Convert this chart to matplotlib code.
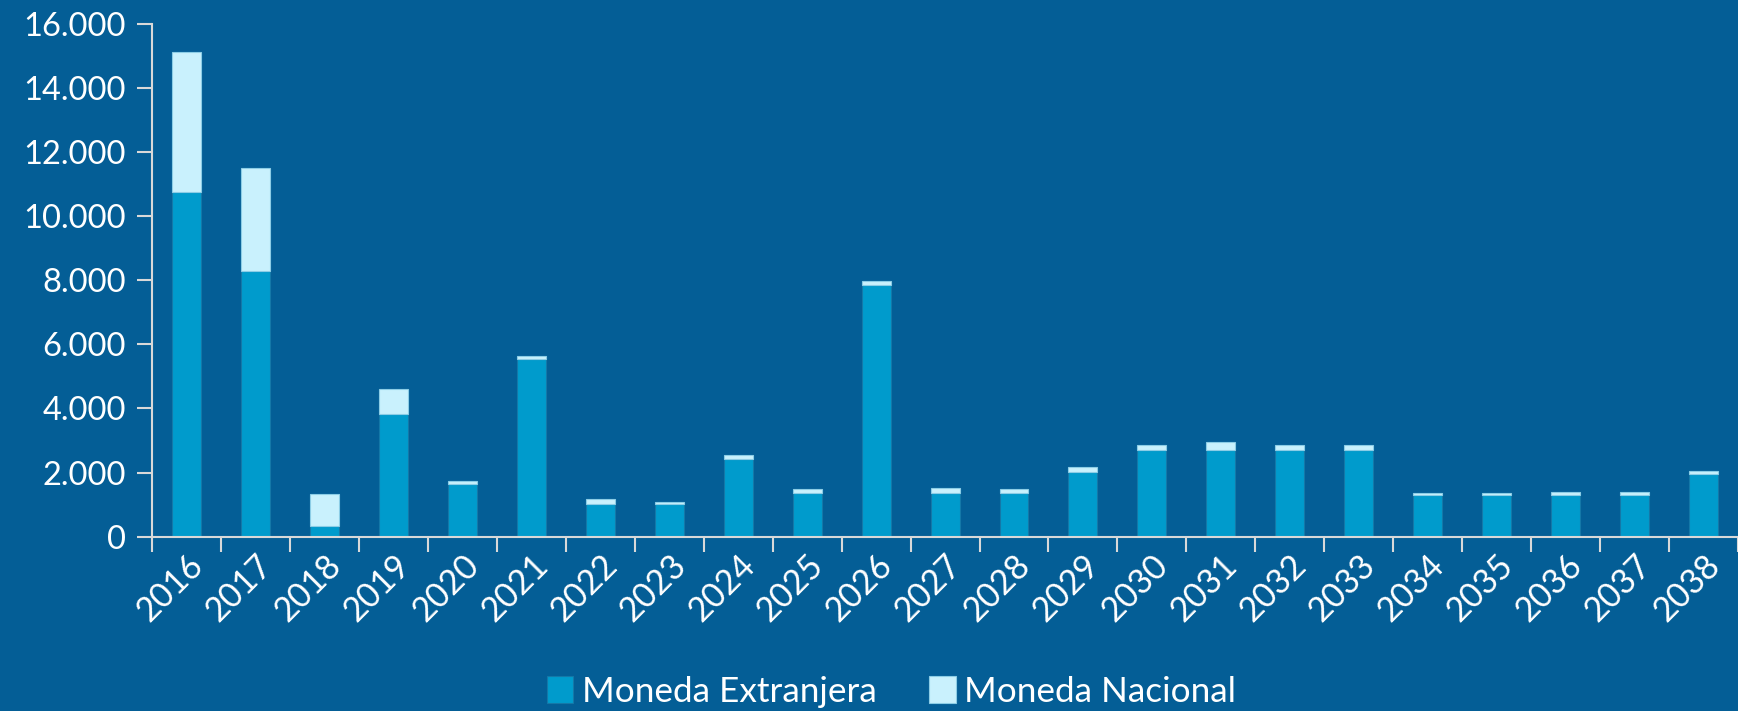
import numpy as np
import matplotlib.pyplot as plt
from matplotlib.ticker import FuncFormatter, FixedLocator

years = [str(y) for y in range(2016, 2039)]

# values (millions)
moneda_extranjera = [10750, 8300, 340, 3840, 1640, 5550, 1030, 1020, 2420, 1360,
                     7860, 1360, 1360, 2010, 2690, 2690, 2690, 2690, 1290, 1290,
                     1290, 1290, 1950]
moneda_nacional = [4390, 3200, 980, 780, 110, 100, 140, 50, 120, 110,
                   110, 150, 110, 150, 160, 250, 160, 160, 70, 70,
                   100, 100, 110]

bg = '#045E96'
c_ext = '#009BCC'
c_nac = '#C9F1FD'
fg = 'white'

plt.rcParams['font.family'] = ['Lato', 'DejaVu Sans']

fig = plt.figure(figsize=(17.38, 7.11), dpi=100, facecolor=bg)
ax = fig.add_axes([0.0875, 0.2454, 0.9125, 0.7203], facecolor=bg)

x = np.arange(len(years))
w = 0.42
ax.bar(x, moneda_extranjera, w, color=c_ext, edgecolor='#1478A8', linewidth=0.8,
       label='Moneda Extranjera')
ax.bar(x, moneda_nacional, w, bottom=moneda_extranjera, color=c_nac,
       edgecolor='#8CCDE6', linewidth=0.8, label='Moneda Nacional')

ax.set_xlim(-0.5, len(years) - 0.5)
ax.set_ylim(0, 16000)
ax.set_yticks(range(0, 16001, 2000))
ax.yaxis.set_major_formatter(FuncFormatter(lambda v, p: f'{int(v):,}'.replace(',', '.')))

# labels at the centres, tick marks at the boundaries
ax.set_xticks(x)
ax.set_xticklabels(years, rotation=45, ha='right', rotation_mode='anchor')
ax.xaxis.set_minor_locator(FixedLocator(np.arange(-0.5, len(years), 1.0)))
ax.tick_params(axis='x', which='major', length=0, pad=9, labelsize=24.5, labelcolor=fg)
ax.tick_params(axis='x', which='minor', length=11, width=1.5, color='#D9D9D9', direction='out')
ax.tick_params(axis='y', length=11, width=1.5, color='#D9D9D9', labelsize=23.5,
               labelcolor=fg, pad=8)

for s in ['top', 'right']:
    ax.spines[s].set_visible(False)
for s in ['left', 'bottom']:
    ax.spines[s].set_color('#D9D9D9')
    ax.spines[s].set_linewidth(1.5)

leg = fig.legend(loc='lower center', bbox_to_anchor=(0.513, -0.04), ncol=2, frameon=False,
                 fontsize=25.3, handlelength=0.75, handleheight=0.8, handletextpad=0.25,
                 columnspacing=1.5)
for t in leg.get_texts():
    t.set_color(fg)

fig.savefig('out.png', dpi=100, facecolor=bg)
